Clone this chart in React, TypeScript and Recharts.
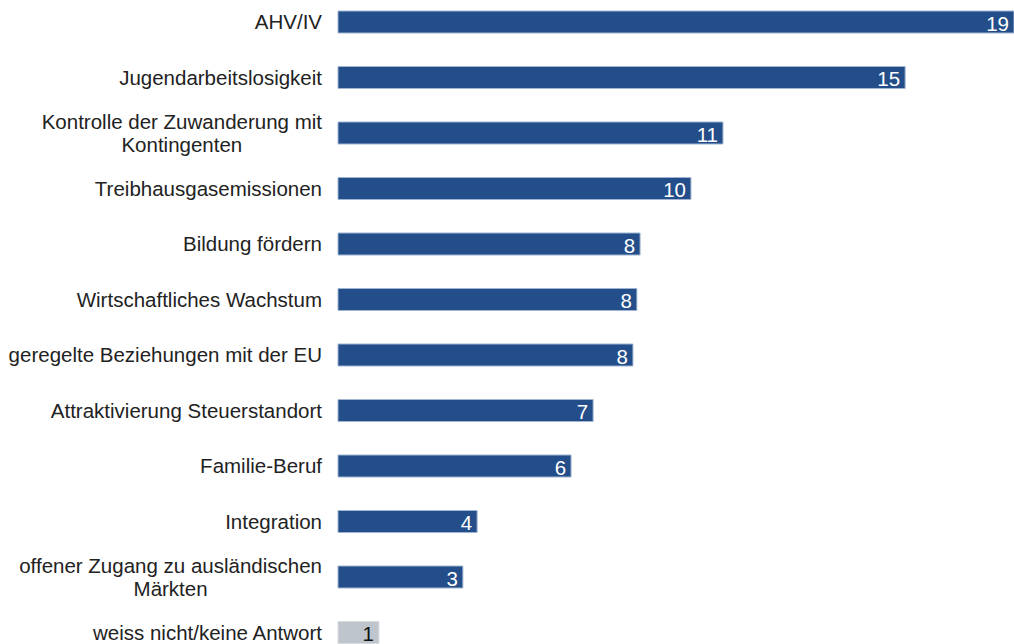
import React from 'react';
import { BarChart, Bar, XAxis, YAxis, Cell, LabelList } from 'recharts';

const categories = [
  'AHV/IV',
  'Jugendarbeitslosigkeit',
  'Kontrolle der Zuwanderung mit\nKontingenten',
  'Treibhausgasemissionen',
  'Bildung fördern',
  'Wirtschaftliches Wachstum',
  'geregelte Beziehungen mit der EU',
  'Attraktivierung Steuerstandort',
  'Familie-Beruf',
  'Integration',
  'offener Zugang zu ausländischen\nMärkten',
  'weiss nicht/keine Antwort',
];

// bar lengths as drawn in the picture
const values = [19.0, 15.94, 10.82, 9.92, 8.49, 8.4, 8.29, 7.17, 6.55, 3.91, 3.51, 1.15];
// printed labels
const shownLabels = ['19', '15', '11', '10', '8', '8', '8', '7', '6', '4', '3', '1'];

const data = categories.map((name, i) => ({ name, value: values[i], label: shownLabels[i] }));

const FONT = '"Liberation Sans", Arial, sans-serif';
const FONT_SIZE = 20.5;
const BLUE = '#234e8a';
const GREY = '#bfc5cc';

let ctx: CanvasRenderingContext2D | null = null;
const measure = (s: string) => {
  if (!ctx) ctx = document.createElement('canvas').getContext('2d');
  if (!ctx) return s.length * 10;
  ctx.font = `${FONT_SIZE}px ${FONT}`;
  return ctx.measureText(s).width;
};

const CategoryTick = (props: any) => {
  const { x, y, payload } = props;
  const lines: string[] = String(payload.value).split('\n');
  if (lines.length === 1) {
    return (
      <text x={x} y={y + 7.5} textAnchor="end" fontFamily={FONT} fontSize={FONT_SIZE} fill="#222">
        {lines[0]}
      </text>
    );
  }
  const w = Math.max(...lines.map(measure));
  const cx = x - w / 2;
  const lh = 23;
  const top = y + 7.5 - (lh * (lines.length - 1)) / 2;
  return (
    <text textAnchor="middle" fontFamily={FONT} fontSize={FONT_SIZE} fill="#222">
      {lines.map((l, i) => (
        <tspan key={i} x={cx} y={top + i * lh}>
          {l}
        </tspan>
      ))}
    </text>
  );
};

const ValueLabel = (props: any) => {
  const { x, y, width, height, index } = props;
  const last = index === shownLabels.length - 1;
  return (
    <text
      x={x + width - 5}
      y={y + height / 2 + 8.5}
      textAnchor="end"
      fontFamily={FONT}
      fontSize={FONT_SIZE}
      fill={last ? '#111' : '#fff'}
    >
      {shownLabels[index]}
    </text>
  );
};

export default function App() {
  return (
    <div style={{ position: 'fixed', left: 0, top: -6, background: '#fff' }}>
      <BarChart
        width={1014}
        height={666}
        data={data}
        layout="vertical"
        margin={{ top: 0, right: 0, left: 0, bottom: 0 }}
        barSize={22}
      >
        <XAxis type="number" hide domain={[0, 19]} />
        <YAxis
          type="category"
          dataKey="name"
          width={338}
          axisLine={false}
          tickLine={false}
          tickSize={0}
          tickMargin={16}
          interval={0}
          tick={<CategoryTick />}
        />
        <Bar dataKey="value" isAnimationActive={false} stroke="#9fb4d2" strokeWidth={1}>
          {data.map((d, i) => (
            <Cell
              key={i}
              fill={i === data.length - 1 ? GREY : BLUE}
              stroke={i === data.length - 1 ? '#d8dce1' : '#9fb4d2'}
            />
          ))}
          <LabelList dataKey="label" content={<ValueLabel />} />
        </Bar>
      </BarChart>
    </div>
  );
}
